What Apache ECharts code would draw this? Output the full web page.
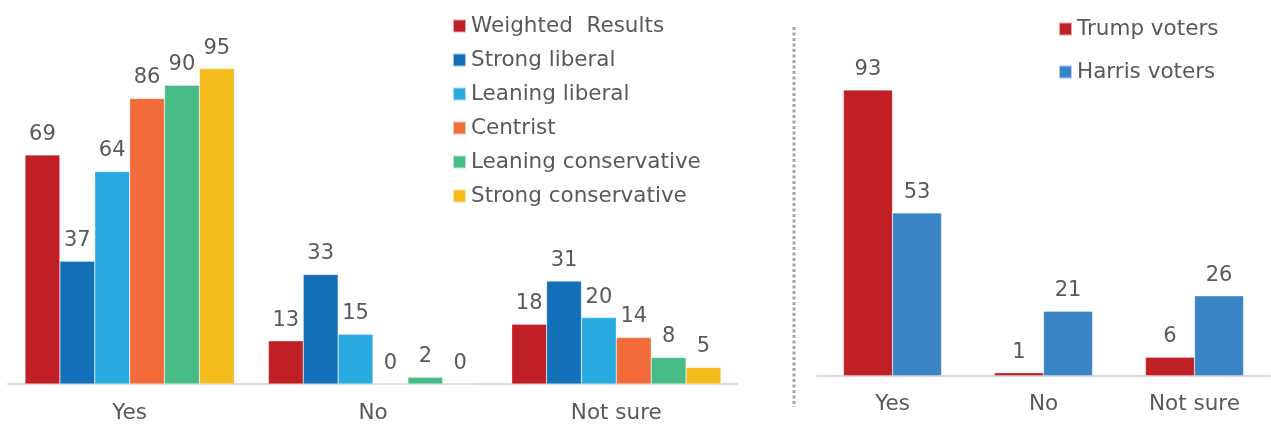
<!DOCTYPE html>
<html><head><meta charset="utf-8">
<script src="https://cdn.jsdelivr.net/npm/echarts@6/dist/echarts.min.js"></script>
<style>html,body{margin:0;padding:0;background:#fff}#c{width:1271px;height:424px}</style>
</head><body><div id="c"></div>
<script>
const categories = ['Yes', 'No', 'Not sure'];
const leftSeriesNames = ['Weighted  Results', 'Strong liberal', 'Leaning liberal', 'Centrist', 'Leaning conservative', 'Strong conservative'];
const weighted = [69, 13, 18];
const strongLiberal = [37, 33, 31];
const leaningLiberal = [64, 15, 20];
const centrist = [86, 0, 14];
const leaningConservative = [90, 2, 8];
const strongConservative = [95, 0, 5];
const rightSeriesNames = ['Trump voters', 'Harris voters'];
const trumpVoters = [93, 1, 6];
const harrisVoters = [53, 21, 26];

const leftColors = ['#C01F26', '#1170B8', '#29ABE2', '#F26B3A', '#47BC86', '#F4BB1C'];
const rightColors = ['#C01F26', '#3A83C5'];
const FONT = '"DejaVu Sans"';
const TXT = '#595959';

const leftData = [weighted, strongLiberal, leaningLiberal, centrist, leaningConservative, strongConservative];
const rightData = [trumpVoters, harrisVoters];

const labelCfg = {show: true, position: 'top', distance: 10, color: TXT, fontSize: 21, fontFamily: FONT};

const series = [];
leftData.forEach((d, i) => series.push({
  name: leftSeriesNames[i], type: 'bar', xAxisIndex: 0, yAxisIndex: 0, data: d,
  barCategoryGap: '14%', barGap: '0%',
  itemStyle: {color: leftColors[i], borderColor: 'rgba(255,255,255,0.6)', borderWidth: 0.5},
  label: labelCfg
}));
rightData.forEach((d, i) => series.push({
  name: rightSeriesNames[i], type: 'bar', xAxisIndex: 1, yAxisIndex: 1, data: d,
  barCategoryGap: '35%', barGap: '0%',
  itemStyle: {color: rightColors[i], borderColor: 'rgba(255,255,255,0.6)', borderWidth: 0.5},
  label: labelCfg
}));

const xAxisBase = {
  type: 'category', data: categories,
  axisLine: {lineStyle: {color: '#D9D9D9', width: 2}},
  axisTick: {show: false},
  axisLabel: {color: TXT, fontSize: 21.5, fontFamily: FONT, margin: 18}
};
const yAxisBase = {type: 'value', min: 0, max: 100, show: false, splitLine: {show: false}};

const chart = echarts.init(document.getElementById('c'), null, {renderer: 'canvas'});
chart.setOption({
  animation: false,
  backgroundColor: '#fff',
  grid: [
    {left: 8, width: 730, top: 52, bottom: 40},
    {left: 817, width: 453, top: 68.5, bottom: 48.3}
  ],
  xAxis: [Object.assign({gridIndex: 0}, xAxisBase), Object.assign({gridIndex: 1}, xAxisBase)],
  yAxis: [Object.assign({gridIndex: 0}, yAxisBase), Object.assign({gridIndex: 1}, yAxisBase)],
  legend: [
    {data: leftSeriesNames, orient: 'vertical', left: 452, top: 15, padding: 0, icon: 'rect',
     itemWidth: 13, itemHeight: 13, itemGap: 12,
     textStyle: {color: TXT, fontSize: 21.5, fontFamily: FONT, lineHeight: 20}},
    {data: rightSeriesNames, orient: 'vertical', left: 1058, top: 18, padding: 0, icon: 'rect',
     itemWidth: 13, itemHeight: 13, itemGap: 21,
     textStyle: {color: TXT, fontSize: 21.5, fontFamily: FONT, lineHeight: 20}}
  ],
  graphic: [{
    type: 'line', shape: {x1: 794, y1: 27, x2: 794, y2: 407},
    style: {stroke: '#A6A6A6', lineWidth: 3, lineDash: [3, 2.5]}
  }],
  series: series
});
</script></body></html>
